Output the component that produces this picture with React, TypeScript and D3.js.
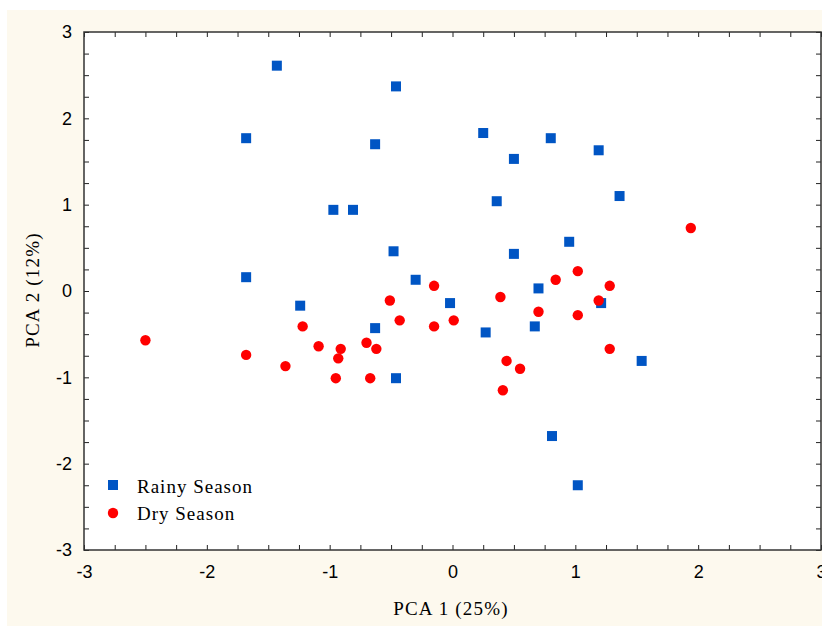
import React, { useEffect, useRef } from "react";
import * as d3 from "d3";

// PCA scores
const rainyX = [-1.43, -1.68, -0.46, -0.63, -0.97, -0.81, -1.68, -0.48, -0.3, -1.24, -0.63, -0.46, -0.02, 0.25, 0.5, 0.8, 1.19, 1.36, 0.36, 0.95, 0.5, 0.7, 1.21, 0.27, 0.67, 1.54, 0.81, 1.02];
const rainyY = [2.61, 1.77, 2.37, 1.7, 0.94, 0.94, 0.16, 0.46, 0.13, -0.17, -0.43, -1.01, -0.14, 1.83, 1.53, 1.77, 1.63, 1.1, 1.04, 0.57, 0.43, 0.03, -0.14, -0.48, -0.41, -0.81, -1.68, -2.25];
const dryX = [-2.5, -1.68, -1.36, -1.22, -1.09, -0.91, -0.93, -0.95, -0.7, -0.62, -0.67, -0.51, -0.43, -0.15, -0.15, 0.01, 0.39, 0.7, 0.84, 1.02, 1.02, 1.19, 1.28, 1.28, 1.94, 0.44, 0.55, 0.41];
const dryY = [-0.57, -0.74, -0.87, -0.41, -0.64, -0.67, -0.78, -1.01, -0.6, -0.67, -1.01, -0.11, -0.34, 0.06, -0.41, -0.34, -0.07, -0.24, 0.13, 0.23, -0.28, -0.11, 0.06, -0.67, 0.73, -0.81, -0.9, -1.15];

const majorTicks = [-3, -2, -1, 0, 1, 2, 3];
const legendLabels = ["Rainy Season", "Dry Season"];

const serif = "'Liberation Serif', 'Times New Roman', serif";

const App = () => {
  const svgRef = useRef<SVGSVGElement>(null);

  useEffect(() => {
    const svg = d3.select(svgRef.current);
    svg.selectAll("*").remove();

    const left = 84, right = 821, top = 32, bottom = 550;
    const x = d3.scaleLinear().domain([-3, 3]).range([left, right]);
    const y = d3.scaleLinear().domain([-3, 3]).range([bottom, top]);
    const minor = d3.range(-3, 3.001, 0.25);

    // cream page background
    svg.append("rect").attr("x", 7).attr("y", 10).attr("width", 815).attr("height", 616).attr("fill", "#fdf9ee");
    svg.append("rect").attr("x", left).attr("y", top).attr("width", right - left).attr("height", bottom - top).attr("fill", "#fff");

    const tickStyle = (g: any) => {
      g.select(".domain").remove();
      g.selectAll("line").attr("stroke", "#222").attr("stroke-width", 1);
    };

    // inward ticks on all four sides
    svg.append("g").attr("transform", `translate(0,${bottom})`)
      .call(d3.axisBottom(x).tickValues(minor).tickSize(-5).tickFormat(() => "")).call(tickStyle);
    svg.append("g").attr("transform", `translate(0,${top})`)
      .call(d3.axisTop(x).tickValues(minor).tickSize(-5).tickFormat(() => "")).call(tickStyle);
    svg.append("g").attr("transform", `translate(${left},0)`)
      .call(d3.axisLeft(y).tickValues(minor).tickSize(-5).tickFormat(() => "")).call(tickStyle);
    svg.append("g").attr("transform", `translate(${right},0)`)
      .call(d3.axisRight(y).tickValues(minor).tickSize(-5).tickFormat(() => "")).call(tickStyle);

    // tick labels (plain hyphen for negatives, as in the original)
    const labelStyle = (g: any) => {
      g.select(".domain").remove();
      g.selectAll("line").remove();
      g.selectAll("text").attr("fill", "#000").style("font-family", "'Liberation Sans', Arial, sans-serif").style("font-size", "18px");
    };
    svg.append("g").attr("transform", `translate(0,${bottom})`)
      .call(d3.axisBottom(x).tickValues(majorTicks).tickSize(0).tickPadding(15).tickFormat((d) => String(d))).call(labelStyle);
    svg.append("g").attr("transform", `translate(${left},0)`)
      .call(d3.axisLeft(y).tickValues(majorTicks).tickSize(0).tickPadding(12).tickFormat((d) => String(d))).call(labelStyle);

    // frame
    svg.append("rect").attr("x", left).attr("y", top).attr("width", right - left).attr("height", bottom - top)
      .attr("fill", "none").attr("stroke", "#333").attr("stroke-width", 1.5);

    // axis titles
    svg.append("text").attr("x", 451).attr("y", 615).attr("text-anchor", "middle")
      .style("font-family", serif).style("font-size", "19px").style("letter-spacing", "1.2px").text("PCA 1 (25%)");
    svg.append("text").attr("transform", `translate(39,290) rotate(-90)`).attr("text-anchor", "middle")
      .style("font-family", serif).style("font-size", "19px").style("letter-spacing", "1.2px").text("PCA 2 (12%)");

    const rainy = rainyX.map((v, i) => [v, rainyY[i]]);
    const dry = dryX.map((v, i) => [v, dryY[i]]);

    // rainy season squares
    svg.append("g").selectAll("rect").data(rainy).enter().append("rect")
      .attr("x", (d) => x(d[0]) - 5).attr("y", (d) => y(d[1]) - 5)
      .attr("width", 10).attr("height", 10).attr("fill", "#0055c4");

    // dry season circles
    svg.append("g").selectAll("circle").data(dry).enter().append("circle")
      .attr("cx", (d) => x(d[0])).attr("cy", (d) => y(d[1])).attr("r", 5.2).attr("fill", "#ff0000");

    // legend
    const legend = svg.append("g").attr("transform", "translate(113,485)");
    legend.append("rect").attr("x", -5).attr("y", -5).attr("width", 10).attr("height", 10).attr("fill", "#0055c4");
    legend.append("circle").attr("cx", 0).attr("cy", 28).attr("r", 5.2).attr("fill", "#ff0000");
    legend.selectAll("text").data(legendLabels).enter().append("text")
      .attr("x", 24).attr("y", (d, i) => 8 + i * 27)
      .style("font-family", serif).style("font-size", "19px")
      .style("letter-spacing", "1px").text((d) => d);
  }, []);

  return (
    <div style={{ position: "absolute", left: 0, top: 0 }}>
      <svg ref={svgRef} width={822} height={626} style={{ display: "block" }}></svg>
    </div>
  );
};

export default App;
